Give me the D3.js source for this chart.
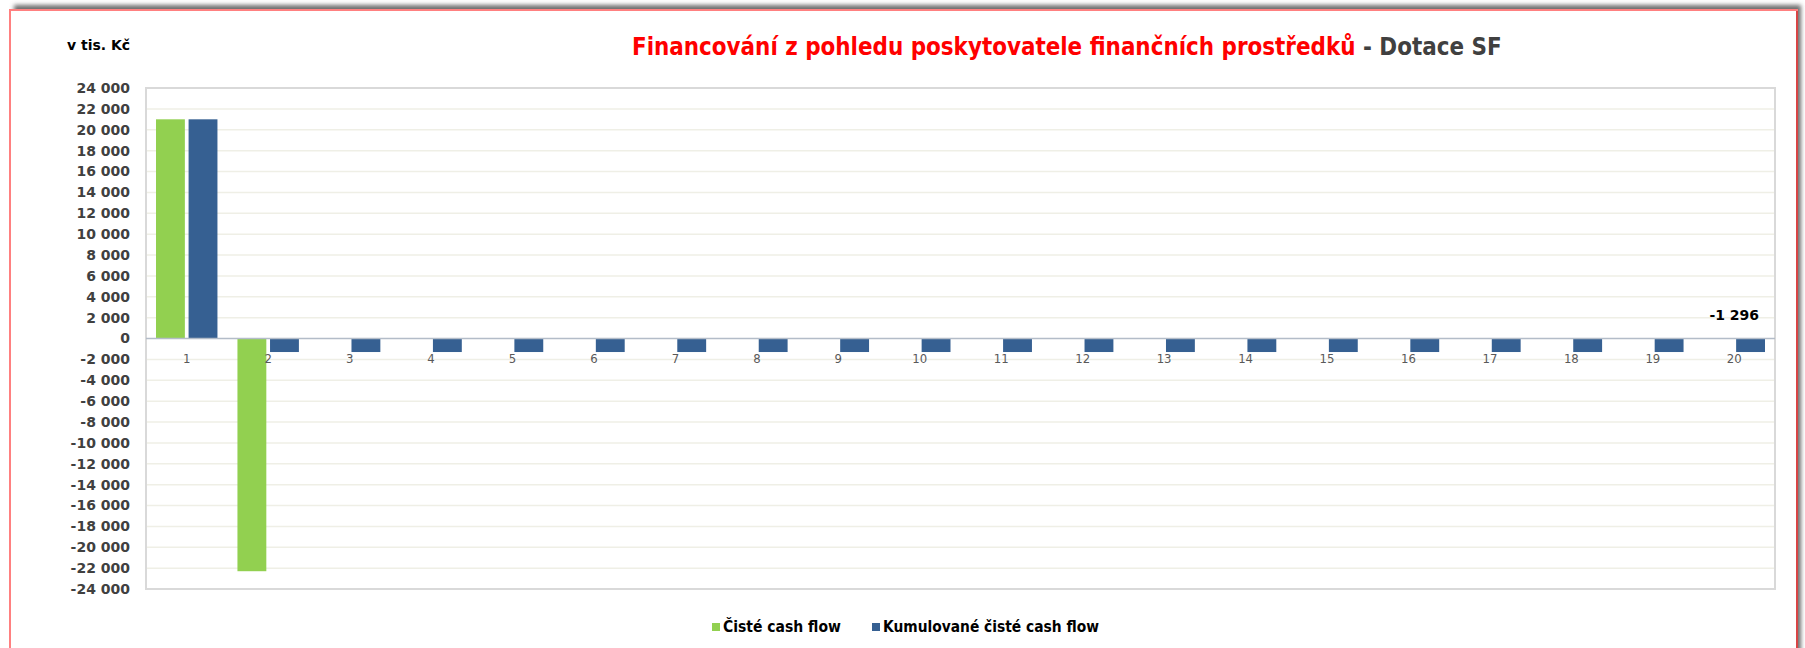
<!DOCTYPE html>
<html>
<head>
<meta charset="utf-8">
<script src="https://cdn.jsdelivr.net/npm/d3@7"></script>
<style>
  html, body { margin: 0; padding: 0; background: #fff; }
  svg { display: block; }
</style>
</head>
<body>
<div class="chart"></div>
<script>
(() => {
  // data
  const categories = d3.range(1, 21).map(String);
  const cisteCF = [21000, -22296, 0, 0, 0, 0, 0, 0, 0, 0, 0, 0, 0, 0, 0, 0, 0, 0, 0, 0];
  const kumulCF = [21000, -1296, -1296, -1296, -1296, -1296, -1296, -1296, -1296, -1296,
                   -1296, -1296, -1296, -1296, -1296, -1296, -1296, -1296, -1296, -1296];
  const yTicks = d3.range(-24000, 24001, 2000);
  const seriesNames = ["Čisté cash flow", "Kumulované čisté cash flow"];
  const seriesColors = ["#92d050", "#366092"];
  const titleRed = "Financování z pohledu poskytovatele finančních prostředků";
  const titleGray = " - Dotace SF";
  const unitLabel = "v tis. Kč";

  const W = 1805, H = 648;
  const plot = { left: 146, top: 88, right: 1775, bottom: 589 };

  const cz = d3.formatLocale({ decimal: ",", thousands: "\u00a0", grouping: [3], currency: ["", " Kč"], minus: "-" });
  const fmt = cz.format(",d");

  const svg = d3.select(".chart").append("svg")
    .attr("width", W).attr("height", H);

  const defs = svg.append("defs");
  const blur = defs.append("filter").attr("id", "shadow")
    .attr("x", "-5%").attr("y", "-5%").attr("width", "110%").attr("height", "110%");
  blur.append("feGaussianBlur").attr("stdDeviation", 2);

  // frame with shadow
  svg.append("rect")
    .attr("x", 14).attr("y", 5).attr("width", 1787).attr("height", 700)
    .attr("fill", "#6e6e6e").attr("filter", "url(#shadow)");
  svg.append("rect")
    .attr("x", 10).attr("y", 10).attr("width", 1787).attr("height", 700)
    .attr("fill", "#fff").attr("stroke", "#ff8080").attr("stroke-width", 2);
  svg.append("line")
    .attr("x1", 1797).attr("x2", 1797).attr("y1", 11).attr("y2", H)
    .attr("stroke", "#d84545").attr("stroke-width", 2);

  const x = d3.scaleBand().domain(categories).range([plot.left, plot.right]);
  const inner = d3.scaleBand().domain(seriesNames)
    .range([10, x.bandwidth() - 10]).paddingInner(7 / 61.45);
  const y = d3.scaleLinear().domain([-24000, 24000]).range([plot.bottom, plot.top]);

  // gridlines
  svg.append("g").selectAll("line")
    .data(yTicks.filter(t => t !== 0 && Math.abs(t) !== 24000))
    .join("line")
    .attr("x1", plot.left).attr("x2", plot.right)
    .attr("y1", d => y(d)).attr("y2", d => y(d))
    .attr("stroke", "#efefe6").attr("stroke-width", 1.5);

  // plot border
  svg.append("rect")
    .attr("x", plot.left).attr("y", plot.top)
    .attr("width", plot.right - plot.left).attr("height", plot.bottom - plot.top)
    .attr("fill", "none").attr("stroke", "#d9d9d9").attr("stroke-width", 2);

  // y axis labels
  const yAxis = svg.append("g")
    .attr("transform", `translate(${plot.left - 16},0)`)
    .call(d3.axisLeft(y).tickValues(yTicks).tickFormat(fmt).tickSize(0).tickPadding(0));
  yAxis.select(".domain").remove();
  yAxis.selectAll("text")
    .attr("font-family", "DejaVu Sans, Verdana, sans-serif")
    .attr("font-weight", "bold").attr("font-size", 14)
    .attr("fill", "#404040");

  // bars
  const data = [cisteCF, kumulCF];
  const groups = svg.append("g").selectAll("g")
    .data(seriesNames)
    .join("g")
    .attr("fill", (_, i) => seriesColors[i]);
  groups.selectAll("rect")
    .data((s, si) => data[si].map((v, ci) => ({ s, v, c: categories[ci] })))
    .join("rect")
    .attr("x", d => x(d.c) + inner(d.s))
    .attr("width", inner.bandwidth())
    .attr("y", d => y(Math.max(0, d.v)))
    .attr("height", d => Math.abs(y(d.v) - y(0)));

  // zero line
  svg.append("line")
    .attr("x1", plot.left).attr("x2", plot.right)
    .attr("y1", y(0)).attr("y2", y(0))
    .attr("stroke", "#b3bcc8").attr("stroke-width", 1.5);

  // category labels
  svg.append("g").selectAll("text")
    .data(categories)
    .join("text")
    .attr("x", d => x(d) + x.bandwidth() / 2)
    .attr("y", y(0) + 24)
    .attr("text-anchor", "middle")
    .attr("font-family", "DejaVu Sans Condensed, Tahoma, sans-serif")
    .attr("font-size", 13)
    .attr("fill", "#595959")
    .text(d => d);

  // last value label
  const last = categories.length - 1;
  svg.append("text")
    .attr("x", x(categories[last]) + x.bandwidth() / 2)
    .attr("y", 320)
    .attr("text-anchor", "middle")
    .attr("font-family", "DejaVu Sans, Verdana, sans-serif")
    .attr("font-weight", "bold").attr("font-size", 14)
    .attr("fill", "#000")
    .text(fmt(kumulCF[last]));

  // unit label
  svg.append("text")
    .attr("x", 67).attr("y", 50)
    .attr("font-family", "DejaVu Sans, Verdana, sans-serif")
    .attr("font-weight", "bold").attr("font-size", 14)
    .attr("fill", "#000")
    .text(unitLabel);

  // title, sized to the reference width
  const title = svg.append("text")
    .attr("x", 632).attr("y", 55)
    .attr("font-family", "DejaVu Sans Condensed, Tahoma, sans-serif")
    .attr("font-weight", "bold").attr("font-size", 22);
  title.append("tspan").attr("fill", "#ff0000").text(titleRed);
  title.append("tspan").attr("fill", "#404040").text(titleGray);
  const tl = title.node().getComputedTextLength();
  title.attr("font-size", 22 * 870 / tl);

  // legend
  const legendX = [712, 872];
  const legendW = [118, 216];
  const items = svg.append("g").selectAll("g")
    .data(seriesNames)
    .join("g")
    .attr("transform", (_, i) => `translate(${legendX[i]},632)`);
  items.append("rect")
    .attr("x", 0).attr("y", -9).attr("width", 8).attr("height", 8)
    .attr("fill", (_, i) => seriesColors[i]);
  items.append("text")
    .attr("x", 11).attr("y", 0)
    .attr("font-family", "DejaVu Sans Condensed, Tahoma, sans-serif")
    .attr("font-weight", "bold").attr("font-size", 14)
    .attr("fill", "#000")
    .text(d => d)
    .each(function (_, i) {
      const w = this.getComputedTextLength();
      d3.select(this).attr("font-size", 14 * legendW[i] / w);
    });
})();
</script>
</body>
</html>
